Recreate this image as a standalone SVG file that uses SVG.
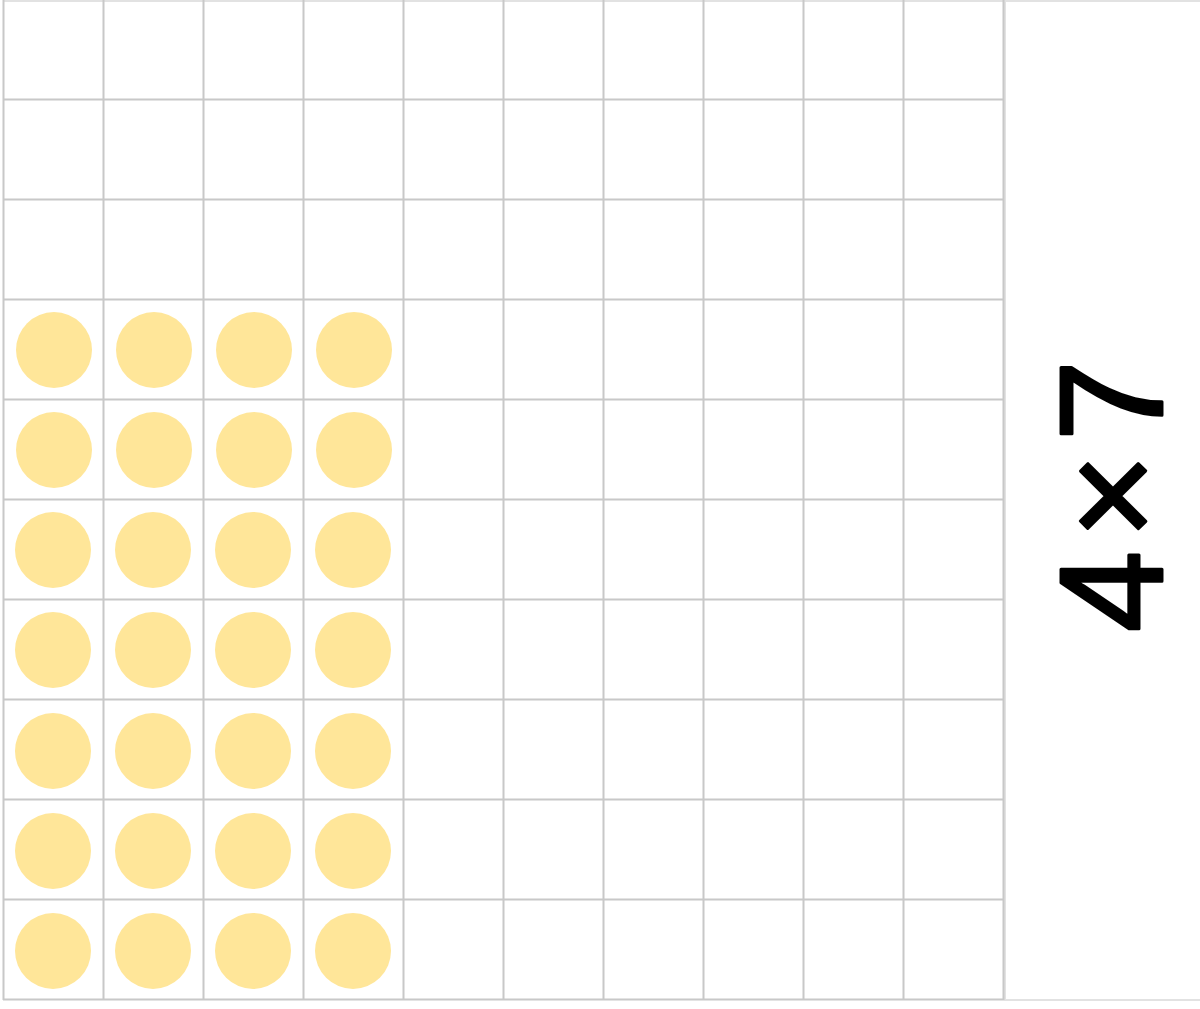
<svg xmlns="http://www.w3.org/2000/svg" width="1200" height="1009" viewBox="0 0 1200 1009">
<style>
.g{stroke:#c8c8c8;stroke-width:2;fill:none}
.p{stroke:#e2e2e2;stroke-width:2;fill:none}
.d{fill:#ffe699}
.t{font-family:"Liberation Sans",Arial,sans-serif;font-size:146px;fill:#000;stroke:#000;stroke-width:3;stroke-linejoin:round}
</style>
<rect width="1200" height="1009" fill="#fff"/>
<g id="panel">
<line class="p" x1="3" y1="1" x2="1200" y2="1"/>
<line class="p" x1="1005" y1="0" x2="1005" y2="1000"/>
<line class="p" x1="1004" y1="1000" x2="1200" y2="1000"/>
</g>
<g id="grid">
<path class="g" d="M3.5,0V1000M103.5,0V1000M203.5,0V1000M303.5,0V1000M403.5,0V1000M503.5,0V1000M603.5,0V1000M703.5,0V1000M803.5,0V1000M903.5,0V1000M1003.5,0V1000"/>
<path class="g" d="M3,99.5H1004M3,199.5H1004M3,299.5H1004M3,399.5H1004M3,499.5H1004M3,599.5H1004M3,699.5H1004M3,799.5H1004M3,899.5H1004M3,999.5H1004"/>
</g>
<g id="dots">
<circle class="d" cx="54" cy="350" r="38"/><circle class="d" cx="154" cy="350" r="38"/><circle class="d" cx="254" cy="350" r="38"/><circle class="d" cx="354" cy="350" r="38"/>
<circle class="d" cx="54" cy="450" r="38"/><circle class="d" cx="154" cy="450" r="38"/><circle class="d" cx="254" cy="450" r="38"/><circle class="d" cx="354" cy="450" r="38"/>
<circle class="d" cx="53" cy="550" r="38"/><circle class="d" cx="153" cy="550" r="38"/><circle class="d" cx="253" cy="550" r="38"/><circle class="d" cx="353" cy="550" r="38"/>
<circle class="d" cx="53" cy="650" r="38"/><circle class="d" cx="153" cy="650" r="38"/><circle class="d" cx="253" cy="650" r="38"/><circle class="d" cx="353" cy="650" r="38"/>
<circle class="d" cx="53" cy="751" r="38"/><circle class="d" cx="153" cy="751" r="38"/><circle class="d" cx="253" cy="751" r="38"/><circle class="d" cx="353" cy="751" r="38"/>
<circle class="d" cx="53" cy="851" r="38"/><circle class="d" cx="153" cy="851" r="38"/><circle class="d" cx="253" cy="851" r="38"/><circle class="d" cx="353" cy="851" r="38"/>
<circle class="d" cx="53" cy="951" r="38"/><circle class="d" cx="153" cy="951" r="38"/><circle class="d" cx="253" cy="951" r="38"/><circle class="d" cx="353" cy="951" r="38"/>
</g>
<g id="label">
<text class="t" transform="translate(1162,496) rotate(-90)" x="0" y="0" text-anchor="middle" textLength="272" lengthAdjust="spacing">4 × 7</text>
</g>
</svg>
